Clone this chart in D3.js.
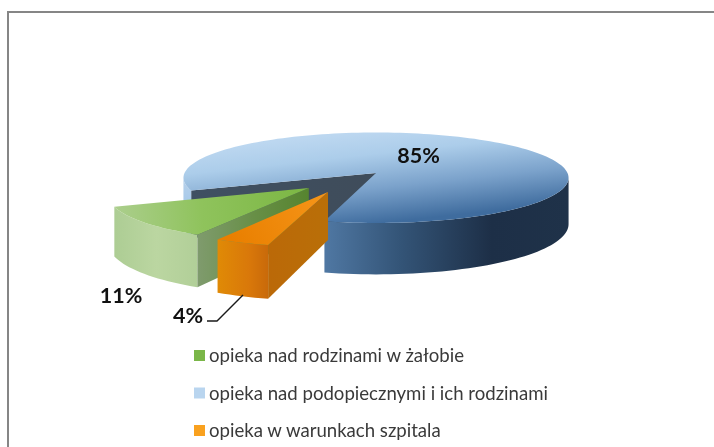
<!DOCTYPE html>
<html>
<head>
<meta charset="utf-8">
<script src="https://cdn.jsdelivr.net/npm/d3@7"></script>
<style>
  html, body { margin: 0; padding: 0; background: #fff; }
  svg { display: block; filter: blur(0.35px); }
</style>
</head>
<body>
<svg id="chart" width="714" height="447"></svg>
<script>
// data, legend order
const categories = ['opieka nad rodzinami w żałobie', 'opieka nad podopiecznymi i ich rodzinami', 'opieka w warunkach szpitala']
const values = [11, 85, 4]
const valueLabels = ['11%', '85%', '4%']

const width = 714, height = 447
const svg = d3.select('#chart')
const defs = svg.append('defs')

// pie lies on a tilted plane, k is the perspective, depth the thickness
const k = 0.105, depth = 46
const xScale = d3.scaleLinear().domain([-1, 1]).range([376 - 191.5, 376 + 191.5])
const yScale = d3.scaleLinear().domain([-1, 1]).range([173 - 44.75, 173 + 44.75])

const rad = d => d * Math.PI / 180
const pie = d3.pie().sort(null).startAngle(rad(208.4)).endAngle(rad(208.4 + 360))
const arcs = pie(values)

// how far each slice is pulled out, in pie radius units
const explodeU = [-0.339, 0, -0.24]
const explodeV = [0.324, 0, 0.4065]

function project(u, v, drop) {
  const w = 1 - k * v
  return [xScale(u / w), yScale(v / w) + drop / w]
}

function rimPoints(i, a0, a1, drop) {
  const steps = Math.max(2, Math.ceil(Math.abs(a1 - a0) / rad(2)))
  return d3.range(steps + 1).map(s => {
    const a = a0 + (a1 - a0) * s / steps
    return project(Math.sin(a) + explodeU[i], -Math.cos(a) + explodeV[i], drop)
  })
}

const line = d3.line().curve(d3.curveLinear)

function tip(i, drop) {
  return project(explodeU[i], explodeV[i], drop)
}

function topPath(i) {
  const d = arcs[i]
  return line([tip(i, 0), ...rimPoints(i, d.startAngle, d.endAngle, 0)]) + 'Z'
}
// outer wall between two angles
function wallPath(i, a0, a1) {
  return line([...rimPoints(i, a0, a1, 0), ...rimPoints(i, a1, a0, depth)]) + 'Z'
}
// flat cut face from the centre to the rim
function cutPath(i, a) {
  const rimTop = rimPoints(i, a, a, 0)[0]
  const rimBottom = rimPoints(i, a, a, depth)[0]
  return line([tip(i, 0), rimTop, rimBottom, tip(i, depth)]) + 'Z'
}

function gradient(id, x1, y1, x2, y2, stops) {
  const g = defs.append('linearGradient').attr('id', id)
    .attr('gradientUnits', 'userSpaceOnUse')
    .attr('x1', x1).attr('y1', y1).attr('x2', x2).attr('y2', y2)
  stops.forEach(s => g.append('stop').attr('offset', s[0]).attr('stop-color', s[1]))
}

gradient('blueTop', 362, 132, 372, 224, [[0, '#bcd7f0'], [0.25, '#acCdea'], [0.62, '#7ba2cb'], [1, '#3f6c9e']])
gradient('blueLeft', 184, 170, 184, 205, [[0, '#bcd3ea'], [1, '#a6c9ea']])
gradient('blueWall', 326, 0, 569, 0, [[0, '#4f77a2'], [0.3, '#345578'], [0.68, '#1d2f47'], [1, '#1f3249']])
gradient('cutDark', 190, 0, 376, 0, [[0, '#3f5062'], [1, '#3f4c5a']])
gradient('greenTop', 115, 207, 305, 190, [[0, '#abce8c'], [0.45, '#8fc35c'], [1, '#7cb744']])
gradient('greenWall', 115, 0, 198, 0, [[0, '#adcd94'], [0.5, '#bbd6a1'], [1, '#b1cf98']])
gradient('greenCut', 198, 0, 309, 0, [[0, '#7f9b6d'], [0.5, '#688f47'], [1, '#56842f']])
gradient('orangeTop', 320, 195, 235, 245, [[0, '#f59417'], [1, '#e97f00']])
gradient('orangeWall', 218, 0, 270, 0, [[0, '#e08a06'], [0.6, '#d9780a'], [1, '#c7680a']])
gradient('orangeCut', 270, 0, 328, 0, [[0, '#bb6908'], [1, '#b96f08']])
gradient('legGreen', 194, 350, 205, 361, [[0, '#7ab648'], [1, '#b5d69a']])
gradient('legBlue', 205, 387, 194, 398, [[0, '#b9d5ef'], [1, '#2f5f96']])
gradient('legOrange', 194, 425, 205, 436, [[0, '#f9a11f'], [1, '#ee7d00']])

// chart frame, only the top and left edges are inside the picture
svg.append('path')
  .attr('d', d3.line()([[8, height], [8, 12], [width, 12]]))
  .attr('fill', 'none').attr('stroke', '#868686').attr('stroke-width', 2)

const pieG = svg.append('g')
const blue = arcs[1], green = arcs[0], orange = arcs[2]

// blue slice first, the pulled out ones go over it
pieG.append('path').attr('d', cutPath(1, blue.startAngle)).attr('fill', 'url(#cutDark)')
pieG.append('path').attr('d', wallPath(1, blue.startAngle, rad(264))).attr('fill', 'url(#blueLeft)')
pieG.append('path').attr('d', wallPath(1, rad(96 + 360), blue.endAngle)).attr('fill', 'url(#blueWall)')
pieG.append('path').attr('d', topPath(1)).attr('fill', 'url(#blueTop)')

pieG.append('path').attr('d', wallPath(0, green.startAngle, green.endAngle)).attr('fill', 'url(#greenWall)')
pieG.append('path').attr('d', cutPath(0, green.startAngle)).attr('fill', 'url(#greenCut)')
pieG.append('path').attr('d', topPath(0)).attr('fill', 'url(#greenTop)')

pieG.append('path').attr('d', wallPath(2, orange.startAngle, orange.endAngle)).attr('fill', 'url(#orangeWall)')
pieG.append('path').attr('d', cutPath(2, orange.startAngle)).attr('fill', 'url(#orangeCut)')
pieG.append('path').attr('d', topPath(2)).attr('fill', 'url(#orangeTop)')

// leader for the 4% label
svg.append('path')
  .attr('d', d3.line()([[243, 295], [217, 321], [207, 321]]))
  .attr('fill', 'none').attr('stroke', '#1a1a1a').attr('stroke-width', 1.4)

const labelPos = [[121, 303], [418.5, 163], [188, 323]]
svg.selectAll('text.val').data(valueLabels).join('text')
  .attr('class', 'val')
  .attr('x', (d, i) => labelPos[i][0])
  .attr('y', (d, i) => labelPos[i][1])
  .attr('text-anchor', 'middle')
  .attr('font-family', 'Lato')
  .attr('font-weight', 700)
  .attr('font-size', 21.5)
  .attr('fill', '#111')
  .text(d => d)

// legend
const legendY = d3.scalePoint().domain(categories).range([356, 431])
const legendFill = ['url(#legGreen)', 'url(#legBlue)', 'url(#legOrange)']
const legend = svg.selectAll('g.leg').data(categories).join('g')
  .attr('class', 'leg')
  .attr('transform', d => `translate(194,${legendY(d)})`)
legend.append('rect')
  .attr('y', -6).attr('width', 11).attr('height', 11)
  .attr('fill', (d, i) => legendFill[i])
legend.append('text')
  .attr('x', 15).attr('y', 6)
  .attr('font-family', 'Lato')
  .attr('font-size', 18.6)
  .attr('fill', '#3a3a3a')
  .text(d => d)
</script>
</body>
</html>
